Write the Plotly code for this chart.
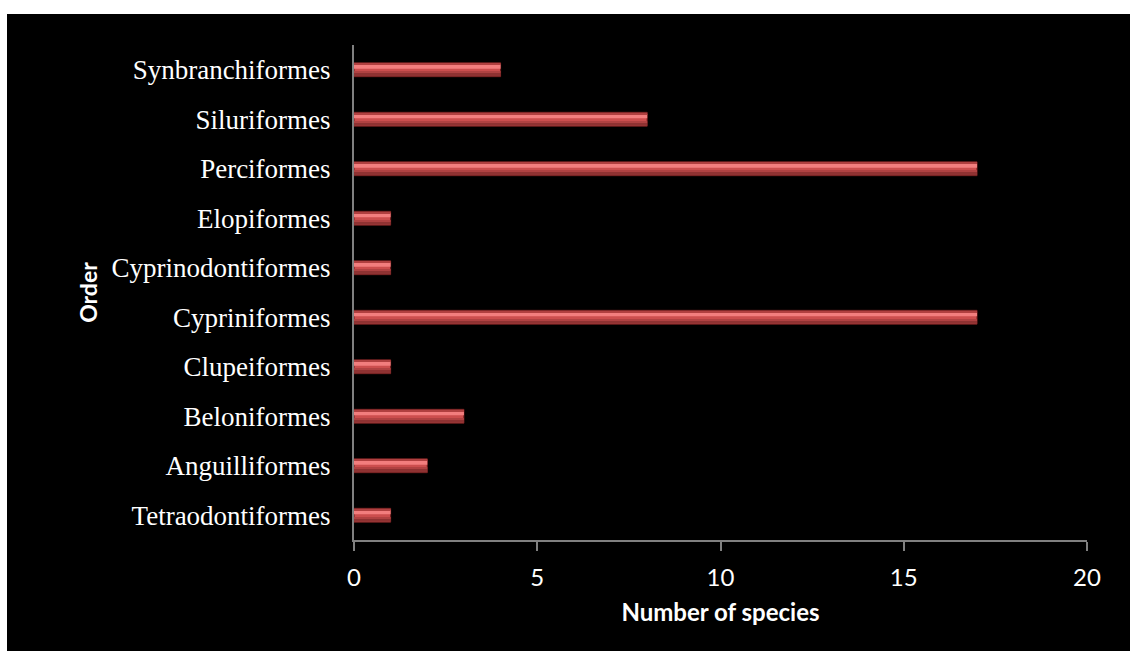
import plotly.graph_objects as go

# Fish orders (bottom to top) and number of species recorded in each
orders = [
    "Tetraodontiformes", "Anguilliformes", "Beloniformes", "Clupeiformes",
    "Cypriniformes", "Cyprinodontiformes", "Elopiformes", "Perciformes",
    "Siluriformes", "Synbranchiformes",
]
species_counts = [1, 2, 3, 1, 17, 1, 1, 17, 8, 4]

x_ticks = [0, 5, 10, 15, 20]

W, H = 1130, 651
L, R, T, B = 354, 43, 45, 111
pw, ph = W - L - R, H - T - B

fig = go.Figure()

# Shaded bar bands: body, dark lower edge, bright highlight near the top
bands = [
    dict(offset=-0.14, width=0.28, color="#cc4e4e", line="#6a1c1c", lw=1),
    dict(offset=-0.13, width=0.065, color="#8f3232", line=None, lw=0),
    dict(offset=-0.065, width=0.03, color="#b04242", line=None, lw=0),
    dict(offset=0.02, width=0.085, color="#f27e7e", line=None, lw=0),
    dict(offset=0.105, width=0.025, color="#b04040", line=None, lw=0),
]
for b in bands:
    fig.add_trace(go.Bar(
        x=species_counts, y=orders, orientation="h",
        offset=b["offset"], width=b["width"],
        marker=dict(color=b["color"],
                    line=dict(color=b["line"] or b["color"], width=b["lw"])),
        hoverinfo="x+y", showlegend=False,
    ))

# Black chart panel with a thin white margin at top and left
fig.add_shape(
    type="rect", xref="paper", yref="paper", layer="below",
    x0=(7 - L) / pw, x1=(W - L) / pw,
    y0=(T + ph - H) / ph, y1=(T + ph - 14) / ph,
    fillcolor="black", line=dict(width=0),
)

sans = "Lato, Open Sans, sans-serif"

fig.update_layout(
    width=W, height=H,
    margin=dict(l=L, r=R, t=T, b=B),
    paper_bgcolor="white", plot_bgcolor="black",
    barmode="overlay",
    xaxis=dict(
        range=[0, 20], tickvals=x_ticks, showgrid=False, zeroline=False,
        showline=True, linecolor="#808080", linewidth=2,
        ticks="outside", ticklen=9, tickwidth=2, tickcolor="#808080",
        ticklabelstandoff=6,
        tickfont=dict(family=sans, size=24, color="white"),
        title=dict(text="<b>Number of species</b>", standoff=14,
                   font=dict(family=sans, size=24, color="white")),
    ),
    yaxis=dict(
        categoryorder="array", categoryarray=orders,
        showgrid=False, zeroline=False,
        showline=True, linecolor="#808080", linewidth=2,
        ticks="outside", ticklen=16, tickcolor="rgba(0,0,0,0)",
        tickfont=dict(family="Liberation Serif, Times New Roman, serif", size=27, color="white"),
        title=dict(text="<b>Order</b>", standoff=8,
                   font=dict(family=sans, size=23, color="white")),
    ),
)

# Extend the value axis line slightly below the category axis
fig.add_shape(type="line", xref="x", yref="paper", x0=0, x1=0,
              y0=-9 / ph, y1=0, line=dict(color="#808080", width=2))

fig.write_html("out.html")
